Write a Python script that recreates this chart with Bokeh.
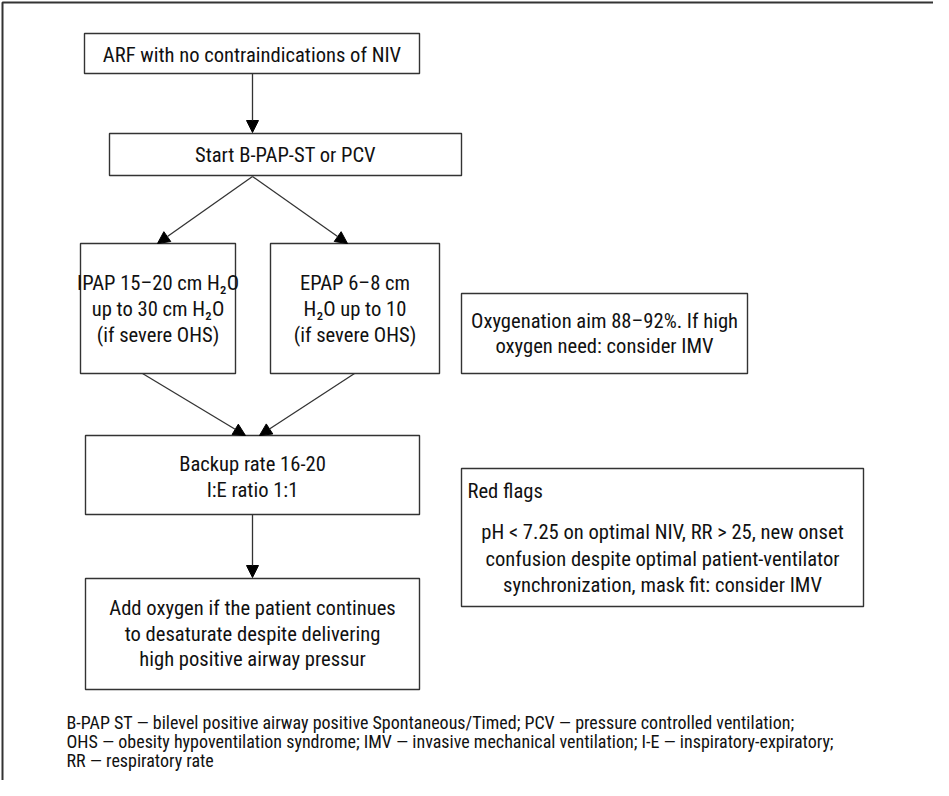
from bokeh.plotting import figure
from bokeh.models import Arrow, NormalHead
from bokeh.core.properties import value
from bokeh.embed import file_html
from bokeh.resources import INLINE

# ---- content (texts) ----
box_ids = ["arf", "start", "ipap", "epap", "oxy", "backup", "addo2", "red"]
box_lines = {
    "arf": ["ARF with no contraindications of NIV"],
    "start": ["Start B-PAP-ST or PCV"],
    "ipap": ["IPAP 15\u201320 cm H\u2082O", "up to 30 cm H\u2082O", "(if severe OHS)"],
    "epap": ["EPAP 6\u20138 cm", "H\u2082O up to 10", "(if severe OHS)"],
    "oxy": ["Oxygenation aim 88\u201392%. If high", "oxygen need: consider IMV"],
    "backup": ["Backup rate 16-20", "I:E ratio 1:1"],
    "addo2": ["Add oxygen if the patient continues", "to desaturate despite delivering",
              "high positive airway pressur"],
    "red": ["pH < 7.25 on optimal NIV, RR > 25, new onset",
            "confusion despite optimal patient-ventilator",
            "synchronization, mask fit: consider IMV"],
}
red_title = "Red flags"
footnote_lines = [
    "B-PAP ST \u2014 bilevel positive airway positive Spontaneous/Timed; PCV \u2014 pressure controlled ventilation;",
    "OHS \u2014 obesity hypoventilation syndrome; IMV \u2014 invasive mechanical ventilation; I-E \u2014 inspiratory-expiratory;",
    "RR \u2014 respiratory rate",
]
edges = [("arf", "start"), ("start", "ipap"), ("start", "epap"),
         ("ipap", "backup"), ("epap", "backup"), ("backup", "addo2")]

# ---- layout (screen-like coordinates) ----
layout = {  # left, top, right, bottom
    "arf": (92, 41, 427, 81),
    "start": (117, 141, 469, 183),
    "ipap": (88, 251, 243, 381),
    "epap": (278, 251, 447, 381),
    "oxy": (469, 301, 755, 381),
    "backup": (93, 443, 427, 522),
    "addo2": (93, 586, 427, 697),
    "red": (469, 476, 871, 614),
}
text_y = {
    "arf": [62], "start": [162], "ipap": [290, 316, 342], "epap": [290, 316, 342],
    "oxy": [328, 353], "backup": [471, 497], "addo2": [615, 641, 666],
    "red": [539, 566, 592],
}
edge_pts = {
    ("arf", "start"): ((260, 81), (260, 140)),
    ("start", "ipap"): ((260, 184), (165, 251)),
    ("start", "epap"): ((260, 184), (355, 251)),
    ("ipap", "backup"): ((150, 381), (253, 443)),
    ("epap", "backup"): ((362, 381), (267, 443)),
    ("backup", "addo2"): ((260, 522), (260, 585)),
}

FONT = "Roboto Condensed"
W, H = 933, 780
p = figure(width=W, height=H, x_range=(8, 8 + W), y_range=(8 + H, 8),
           output_backend="svg", toolbar_location=None, min_border=0,
           background_fill_color="white", border_fill_color="white")
p.axis.visible = False
p.grid.visible = False
p.outline_line_color = None

LC = "#333333"
TC = "#111111"
# outer frame (left and top)
p.line(x=[10, 10, 8 + W], y=[8 + H, 10, 10], line_color=LC, line_width=2)

for b in box_ids:
    l, t, r, btm = layout[b]
    p.quad(left=l, right=r, top=t, bottom=btm, fill_color="white",
           line_color=LC, line_width=1.4)
    cx = (l + r) / 2
    lines = box_lines[b]
    p.text(x=[cx] * len(lines), y=text_y[b], text=lines, text_align="center",
           text_baseline="middle", text_font=value(FONT), text_font_size="20.6px",
           text_color=TC)

# Red flags title
l, t, r, btm = layout["red"]
p.text(x=[l + 6], y=[498], text=[red_title], text_align="left", text_baseline="middle",
       text_font=value(FONT), text_font_size="20.6px", text_color=TC)

for e in edges:
    (x0, y0), (x1, y1) = edge_pts[e]
    p.add_layout(Arrow(end=NormalHead(size=12, fill_color="black", line_color="black",
                                      line_width=1),
                       x_start=x0, y_start=y0, x_end=x1, y_end=y1,
                       line_color=LC, line_width=1.3))

p.text(x=[74] * 3, y=[730, 749, 768], text=footnote_lines, text_align="left",
       text_baseline="middle", text_font=value(FONT), text_font_size="18px",
       text_color=TC)

open("out.html", "w").write(file_html(p, INLINE))
